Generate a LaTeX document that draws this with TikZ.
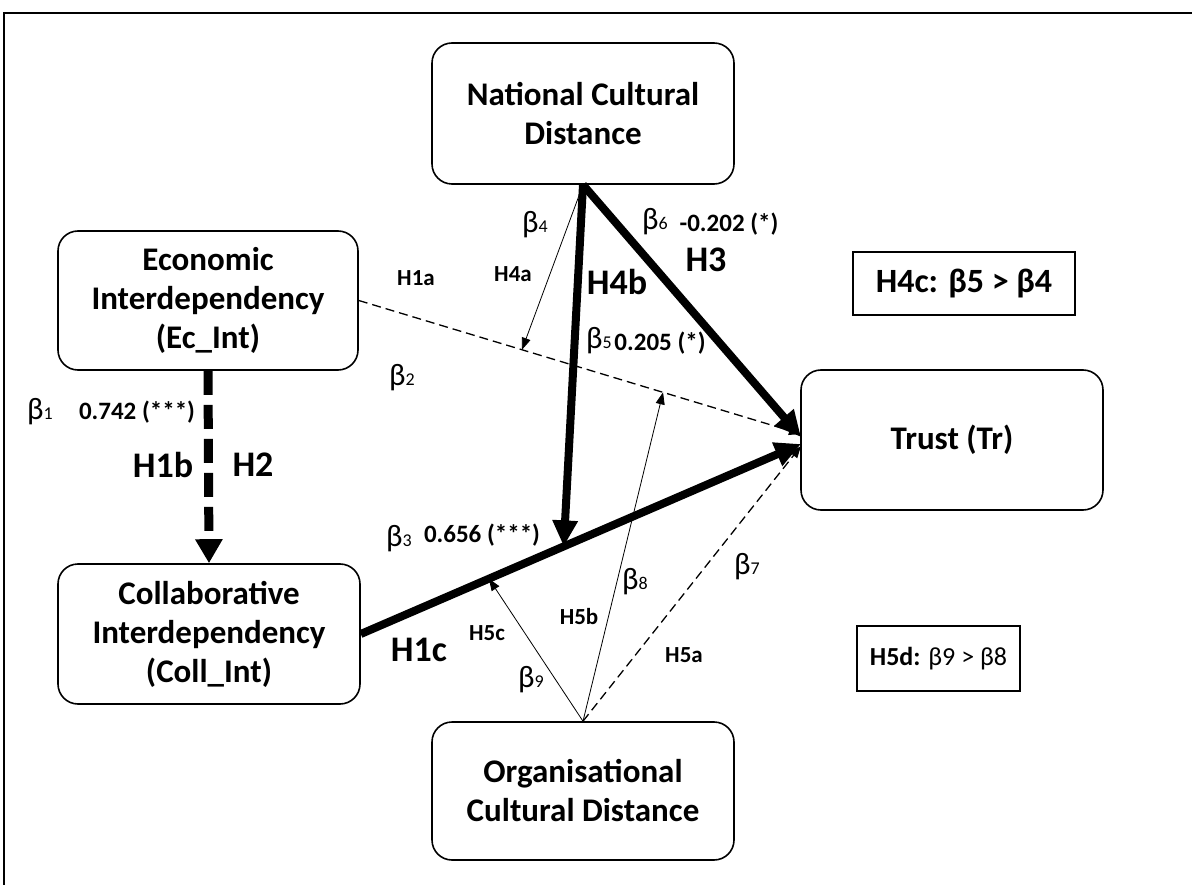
\documentclass[tikz,border=0pt]{standalone}
\usepackage{fontspec}
\setmainfont{Carlito}
\usetikzlibrary{arrows.meta,calc}
\newcommand{\bt}[1]{β{\fontsize{18}{18}\selectfont #1}}
\begin{document}
\begin{tikzpicture}[x=1pt,y=-1pt,
  box/.style={draw,line width=1.6pt,rounded corners=20pt,align=center,inner sep=0pt,
    minimum width=302pt,minimum height=140pt,font=\fontsize{33}{39}\selectfont\bfseries},
  hbox/.style={draw,line width=1.6pt,inner sep=0pt,align=center},
  bigarrow/.style={line width=8pt,-{Triangle[length=26pt,width=24pt]}},
  thinarrow/.style={line width=0.8pt,-{Triangle[length=12pt,width=9pt]}},
  thindash/.style={line width=1.3pt,dash pattern=on 9pt off 5pt,-{Triangle[length=12pt,width=9pt]}},
  thickdash/.style={line width=9pt,dash pattern=on 24pt off 10pt,-{Triangle[length=24pt,width=26pt]}},
  blab/.style={inner sep=0pt,font=\fontsize{31}{31}\selectfont},
  num/.style={inner sep=0pt,font=\fontsize{25}{25}\selectfont\bfseries},
  bigh/.style={inner sep=0pt,font=\fontsize{36}{36}\selectfont\bfseries},
  smallh/.style={inner sep=0pt,font=\fontsize{23}{23}\selectfont\bfseries}]
\useasboundingbox (0,0) rectangle (1192,885);
\fill[white] (0,0) rectangle (1192,885);
\draw[line width=1.5pt] (4,885) -- (4,13) -- (1192,13);

% boxes
\node[box,minimum height=141pt] (nat) at (583,113.5) {National Cultural\\Distance};
\node[box,minimum width=300pt,minimum height=139pt] (eco) at (208,300.5) {Economic\\Interdependency\\(Ec\_Int)};
\node[box] (col) at (209,634) {Collaborative\\Interdependency\\(Coll\_Int)};
\node[box] (tru) at (952,440) {Trust (Tr)};
\node[box,minimum height=138pt] (org) at (583,791) {Organisational\\Cultural Distance};
\node[hbox,minimum width=222pt,minimum height=63pt,font=\fontsize{34}{34}\selectfont\bfseries] (h4c) at (964,283.5) {H4c: β5 > β4};
\node[hbox,minimum width=163pt,minimum height=65pt,font=\fontsize{26}{26}\selectfont] (h5d) at (938.5,658.5) {\textbf{H5d:} β9 > β8};

% target points
\coordinate (tA) at (801,434);
\coordinate (tB) at (801,437);
\coordinate (tC) at (801,444);
\coordinate (tD) at (801,446);
\coordinate (m1) at ($(eco.east)!0.369!(tA)$);
\coordinate (m2) at ($(eco.east)!0.688!(tA)$);
\coordinate (m3) at ($(col.east)!0.461!(tC)$);
\coordinate (m4) at ($(col.east)!0.291!(tC)$);

% connectors
\draw[thickdash] (eco.south) -- (col.north);
\draw[thindash] (eco.east) -- (tA);
\draw[bigarrow] (col.east) -- (tC);
\draw[bigarrow] (nat.south) -- (tB);
\draw[bigarrow] (nat.south) -- (m3);
\draw[thinarrow] (nat.south) -- (m1);
\draw[thindash] (org.north) -- (tD);
\draw[thinarrow] (org.north) -- (m2);
\draw[thinarrow] (org.north) -- (m4);

% labels
\node[blab] (b1) at (40,412) {\bt{1}};
\node[num] (n1) at (137,412) {0.742 (***)};
\node[bigh] (h1b) at (163,465) {H1b};
\node[bigh] (h2) at (253,465) {H2};
\node[smallh] (h1a) at (416,278) {H1a};
\node[smallh] (h4a) at (513,274) {H4a};
\node[blab] (b4) at (535,225) {\bt{4}};
\node[blab] (b2) at (402,378) {\bt{2}};
\node[blab] (b6) at (655,222) {\bt{6}};
\node[num] (n6) at (729,224) {-0.202 (*)};
\node[bigh] (h3) at (706,260) {H3};
\node[bigh] (h4b) at (617,282) {H4b};
\node[blab] (b5) at (599,341) {\bt{5}};
\node[num] (n5) at (660,343) {0.205 (*)};
\node[blab] (b3) at (399,539) {\bt{3}};
\node[num] (n3) at (482,535) {0.656 (***)};
\node[bigh] (h1c) at (419,650) {H1c};
\node[smallh] (h5c) at (487,633) {H5c};
\node[blab] (b9) at (531,680) {\bt{9}};
\node[smallh] (h5b) at (579,617) {H5b};
\node[blab] (b8) at (635,582) {\bt{8}};
\node[blab] (b7) at (747,567) {\bt{7}};
\node[smallh] (h5a) at (684,655) {H5a};
\end{tikzpicture}
\end{document}
